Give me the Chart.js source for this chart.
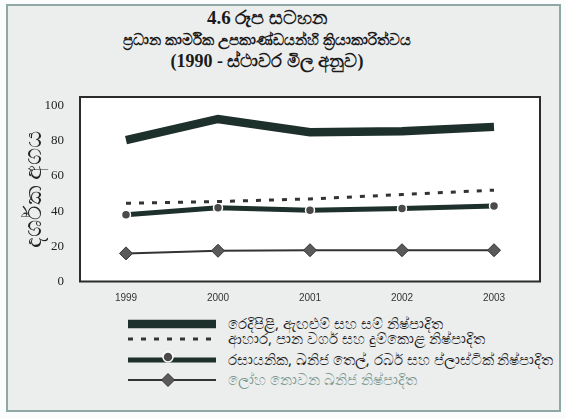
<!DOCTYPE html>
<html lang="si">
<head>
  <meta charset="UTF-8" />
  <title>4.6 රූප සටහන</title>
  <script src="https://cdn.jsdelivr.net/npm/chart.js"></script>
  <style>
    html, body {
      margin: 0;
      padding: 0;
      background: #fbfcfc;
      width: 566px;
      height: 419px;
      overflow: hidden;
    }
    .panel {
      position: absolute;
      left: 6px;
      top: 4px;
      width: 551px;
      height: 404px;
      border: 2px solid #8fa8a6;
      background: #eceeee;
    }
    .titulo {
      position: absolute;
      left: 7px;
      width: 520px;
      text-align: center;
      font-family: "Liberation Serif", serif;
      font-weight: bold;
      color: #1a1a1a;
      line-height: 21px;
      top: 7px;
      font-size: 18px;
    }
    .titulo .l1 { font-size: 19px; }
    .titulo .l2 { font-size: 14.8px; }
    #grafico {
      position: absolute;
      left: 0;
      top: 0;
    }
    .leyenda {
      position: absolute;
      left: 126px;
      top: 0;
      font-family: "Noto Sans", sans-serif;
      font-size: 15px;
      color: #222;
    }
    .fila {
      position: absolute;
      left: 0;
      height: 18px;
      width: 430px;
      white-space: nowrap;
    }
    .fila svg { position: absolute; left: 0; top: 0; }
    .fila span { position: absolute; left: 102px; top: -1px; line-height: 18px; }
  </style>
</head>
<body>
  <div class="panel"></div>
  <div class="titulo">
    <span class="l1">4.6 රූප සටහන</span><br>
    <span class="l2">ප්‍රධාන කාර්මික උපකාණ්ඩයන්හි ක්‍රියාකාරිත්වය</span><br>
    (1990 - ස්ථාවර මිල අනුව)
  </div>
  <canvas id="grafico" width="566" height="310"></canvas>
  <div class="leyenda" id="leyenda"></div>

  <script>
    const anios = ["1999", "2000", "2001", "2002", "2003"];
    const yTicks = [0, 20, 40, 60, 80, 100];
    const tituloEjeY = "දර්ශක අගය";

    const nombres = [
      "රෙදිපිළි, ඇඟළුම් සහ සම් නිෂ්පාදිත",
      "ආහාර, පාන වර්ග සහ දුම්කොළ නිෂ්පාදිත",
      "රසායනික, ඛනිජ තෙල්, රබර් සහ ප්ලාස්ටික් නිෂ්පාදිත",
      "ලෝහ නොවන ඛනිජ නිෂ්පාදිත"
    ];

    const textiles = [80.5, 92.5, 85, 85.5, 88];
    const alimentos = [44.5, 45.5, 47, 49.5, 52];
    const quimicos = [38, 42, 40.5, 41.5, 43];
    const minerales = [16, 17.5, 17.8, 17.8, 17.8];

    const oscuro = "#1d302c";

    // fondo blanco y marco del area del grafico
    const marco = {
      id: "marco",
      beforeDraw(chart) {
        const a = chart.chartArea, ctx = chart.ctx;
        ctx.save();
        ctx.fillStyle = "#ffffff";
        ctx.fillRect(a.left, a.top, a.right - a.left, a.bottom - a.top);
        ctx.restore();
      },
      beforeDatasetsDraw(chart) {
        const a = chart.chartArea, ctx = chart.ctx;
        ctx.save();
        ctx.strokeStyle = "#2b2b2b";
        ctx.lineWidth = 2;
        ctx.strokeRect(a.left, a.top, a.right - a.left, a.bottom - a.top);
        ctx.restore();
      }
    };

    const datasets = [
      {
        label: nombres[0],
        data: textiles,
        borderColor: oscuro,
        borderWidth: 8.5,
        pointRadius: 0
      },
      {
        label: nombres[1],
        data: alimentos,
        borderColor: "#333333",
        borderWidth: 3,
        borderDash: [5, 8],
        pointRadius: 0
      },
      {
        label: nombres[2],
        data: quimicos,
        borderColor: oscuro,
        borderWidth: 5,
        pointRadius: 4.5,
        pointBackgroundColor: "#4a4a4a",
        pointBorderColor: "#ffffff",
        pointBorderWidth: 1.5
      },
      {
        label: nombres[3],
        data: minerales,
        borderColor: "#333333",
        borderWidth: 2,
        pointStyle: "rectRot",
        pointRadius: 6.5,
        pointBackgroundColor: "#5a5a5a",
        pointBorderColor: "#333333",
        pointBorderWidth: 1
      }
    ];

    new Chart(document.getElementById("grafico"), {
      type: "line",
      data: { labels: anios, datasets },
      options: {
        responsive: false,
        animation: false,
        tension: 0,
        layout: { padding: { left: 16, right: 26, top: 97, bottom: 0 } },
        plugins: {
          legend: { display: false },
          tooltip: { enabled: false }
        },
        scales: {
          x: {
            offset: true,
            grid: { display: false, drawTicks: false },
            border: { display: false },
            afterFit: s => { s.height = 28.5; },
            ticks: {
              padding: 11,
              color: "#333",
              font: { family: "Liberation Sans", size: 10 }
            }
          },
          y: {
            min: 0,
            max: 105,
            afterBuildTicks: s => { s.ticks = yTicks.map(v => ({ value: v })); },
            afterFit: s => { s.width = 64; },
            grid: { display: false, drawTicks: false },
            border: { display: false },
            ticks: {
              padding: 16,
              color: "#222",
              font: { family: "Liberation Serif", size: 13 }
            },
            title: {
              display: true,
              text: tituloEjeY,
              color: "#222",
              font: { family: "Noto Sans", size: 24 }
            }
          }
        }
      },
      plugins: [marco]
    });

    // leyenda dibujada a mano, con los estilos de cada serie
    const filasY = [315, 330, 351, 371];
    const colorTexto = ["#222", "#222", "#222", "#7f9a92"];
    const leyenda = document.getElementById("leyenda");
    datasets.forEach((d, i) => {
      const fila = document.createElement("div");
      fila.className = "fila";
      fila.style.top = filasY[i] + "px";
      let marca = "";
      if (d.pointStyle === "rectRot") {
        const r = d.pointRadius;
        marca = `<polygon points="${42},${9 - r} ${42 + r},9 ${42},${9 + r} ${42 - r},9" fill="${d.pointBackgroundColor}" stroke="${d.pointBorderColor}"/>`;
      } else if (d.pointRadius > 0) {
        marca = `<circle cx="42" cy="6" r="${d.pointRadius + 0.5}" fill="${d.pointBackgroundColor}" stroke="#fff" stroke-width="1.5"/>`;
      }
      const dash = d.borderDash ? `stroke-dasharray="${d.borderDash.join(' ')}"` : "";
      fila.innerHTML =
        `<svg width="92" height="18"><line x1="2" y1="9" x2="90" y2="9" stroke="${d.borderColor}" stroke-width="${d.borderWidth}" ${dash}/>${marca}</svg>` +
        `<span style="color:${colorTexto[i]}">${d.label}</span>`;
      leyenda.appendChild(fila);
    });
  </script>
</body>
</html>
